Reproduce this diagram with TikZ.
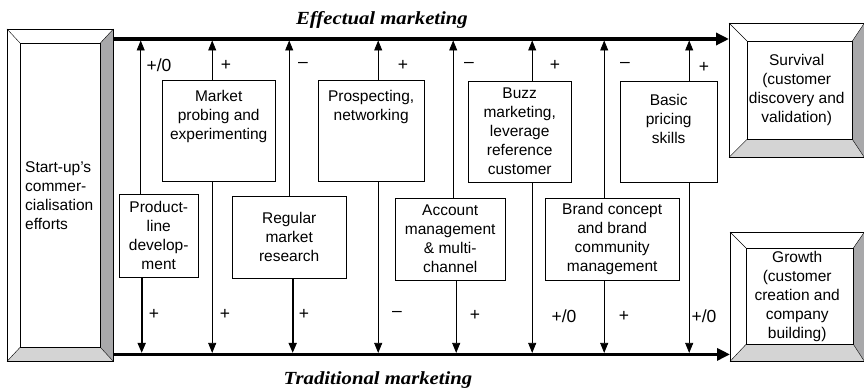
\documentclass[tikz,border=0pt]{standalone}
\usepackage{fontspec}
\setmainfont{Liberation Sans}
\newfontfamily\titlefont[FakeStretch=1.12]{Liberation Serif}
\usetikzlibrary{arrows.meta}
\usetikzlibrary{positioning}
\usetikzlibrary{calc}

\definecolor{bevdark}{RGB}{168,168,170}
\definecolor{bevlight}{RGB}{212,212,212}

% #1 node, #2 left, #3 top, #4 right, #5 bottom
\newcommand{\bevelframe}[5]{%
  \coordinate (#1-a) at ([shift={(#2,#3)}]#1.north west);
  \coordinate (#1-b) at ([shift={(-#4,#3)}]#1.north east);
  \coordinate (#1-c) at ([shift={(-#4,-#5)}]#1.south east);
  \coordinate (#1-d) at ([shift={(#2,-#5)}]#1.south west);
  \fill [bevdark] (#1.north east) -- (#1-b) -- (#1-c) -- (#1.south east) -- cycle;
  \fill [bevlight] (#1.south west) -- (#1-d) -- (#1-c) -- (#1.south east) -- cycle;
  \draw (#1-a) rectangle (#1-c);
  \draw (#1.north west) -- (#1-a) (#1.north east) -- (#1-b)
        (#1.south east) -- (#1-c) (#1.south west) -- (#1-d);
  \draw (#1.north west) rectangle (#1.south east);
}

\begin{document}
\begin{tikzpicture}[x=1pt, y=-1pt,
    every node/.style={font=\fontsize{15.5}{19}\selectfont},
    frame/.style={draw, rectangle, inner sep=0pt, anchor=north west, align=center},
    box/.style={draw, rectangle, inner sep=0pt, anchor=north west, align=center},
    boxtext/.style={inner sep=0pt, align=center},
    sign/.style={inner sep=0pt, font=\fontsize{17.5}{20}\selectfont},
    title/.style={inner sep=0pt, font=\titlefont\bfseries\itshape\fontsize{18.5}{22}\selectfont},
    link/.style={-{Triangle[length=10pt,width=8pt]}, line width=0.8pt, shorten >=1.5pt},
    boldlink/.style={link, line width=1.8pt},
    mainline/.style={-{Triangle[length=13pt,width=12pt]}, line width=3.5pt}]

    \useasboundingbox (0,0) rectangle (864,390);

    \node [frame, minimum width=106, minimum height=332, text width=70, align=left] (start) at (7,29)
        {Start-up’s\\commer-\\cialisation\\efforts};
    \node [frame, minimum width=135, minimum height=134] (surv) at (729,23)
        {Survival\\(customer\\discovery and\\validation)};
    \node [frame, minimum width=134, minimum height=129] (grow) at (730,232)
        {Growth\\(customer\\creation and\\company\\building)};

    \node [box, minimum width=79, minimum height=83] (prod) at (119,194) {Product-\\line\\develop-\\ment};
    \node [box, minimum width=113, minimum height=101] (probe) at (162,80) {};
    \node [boxtext] (probetext) [below = 10pt of probe.north] {Market\\probing and\\experimenting};
    \node [box, minimum width=114, minimum height=82] (research) at (232,196) {Regular\\market\\research};
    \node [box, minimum width=106, minimum height=101] (prosp) at (318,80) {};
    \node [boxtext] (prosptext) [below = 10pt of prosp.north] {Prospecting,\\networking};
    \node [box, minimum width=110, minimum height=82] (account) at (395,198) {Account\\management\\\& multi-\\channel};
    \node [box, minimum width=103, minimum height=101] (buzz) at (468,81) {Buzz\\marketing,\\leverage\\reference\\customer};
    \node [box, minimum width=134, minimum height=82] (brand) at (545,198) {Brand concept\\and brand\\community\\management};
    \node [box, minimum width=97, minimum height=101] (pricing) at (620,81) {};
    \node [boxtext] (pricingtext) [below = 13pt of pricing.north] {Basic\\pricing\\skills};

    \coordinate (eff) at ([yshift=-10pt]start.north east);
    \coordinate (trad) at ([yshift=7pt]start.south east);

    \path [link]
      ([xshift=-18pt]prod.north) edge ([xshift=-18pt]prod.north |- eff)
      ([xshift=-6.5pt]probe.north) edge ([xshift=-6.5pt]probe.north |- eff)
      (research.north) edge (research.north |- eff)
      ([xshift=7pt]prosp.north) edge ([xshift=7pt]prosp.north |- eff)
      ([xshift=3pt]account.north) edge ([xshift=3pt]account.north |- eff)
      ([xshift=12.5pt]buzz.north) edge ([xshift=12.5pt]buzz.north |- eff)
      ([xshift=-8pt]brand.north) edge ([xshift=-8pt]brand.north |- eff)
      ([xshift=20.5pt]pricing.north) edge ([xshift=20.5pt]pricing.north |- eff)
      ([xshift=-6.5pt]probe.south) edge ([xshift=-6.5pt]probe.south |- trad)
      ([xshift=7pt]prosp.south) edge ([xshift=7pt]prosp.south |- trad)
      ([xshift=6pt]account.south) edge ([xshift=6pt]account.south |- trad)
      ([xshift=12.5pt]buzz.south) edge ([xshift=12.5pt]buzz.south |- trad)
      ([xshift=-8pt]brand.south) edge ([xshift=-8pt]brand.south |- trad)
      ([xshift=20.5pt]pricing.south) edge ([xshift=20.5pt]pricing.south |- trad)
      ;
    \path [boldlink]
      ([xshift=-17pt]prod.south) edge ([xshift=-17pt]prod.south |- trad)
      ([xshift=3.5pt]research.south) edge ([xshift=3.5pt]research.south |- trad)
      ;

    \draw [mainline] (eff) -- (eff -| surv.west);
    \draw [mainline] (trad) -- (trad -| grow.west);

    \bevelframe{start}{13}{14}{13}{14}
    \bevelframe{surv}{18}{18}{12}{18}
    \bevelframe{grow}{16}{16}{11}{17}

    \node [sign] (u1) at (159,65) {+/0};
    \node [sign] (u2) at (226,65) {+};
    \node [sign] (u3) at (303,65) {–};
    \node [sign] (u4) at (403,65) {+};
    \node [sign] (u5) at (469,65) {–};
    \node [sign] (u6) at (555,65) {+};
    \node [sign] (u7) at (625,65) {–};
    \node [sign] (u8) at (704,67) {+};
    \node [sign] (d1) at (154,314) {+};
    \node [sign] (d2) at (225,314) {+};
    \node [sign] (d3) at (304,314) {+};
    \node [sign] (d4) at (397,314) {–};
    \node [sign] (d5) at (475,315) {+};
    \node [sign] (d6) at (564,316) {+/0};
    \node [sign] (d7) at (624,316) {+};
    \node [sign] (d8) at (704,316) {+/0};

    \node [title] (efftitle) at (382,20) {Effectual marketing};
    \node [title] (tradtitle) at (378,380) {Traditional marketing};
\end{tikzpicture}
\end{document}
